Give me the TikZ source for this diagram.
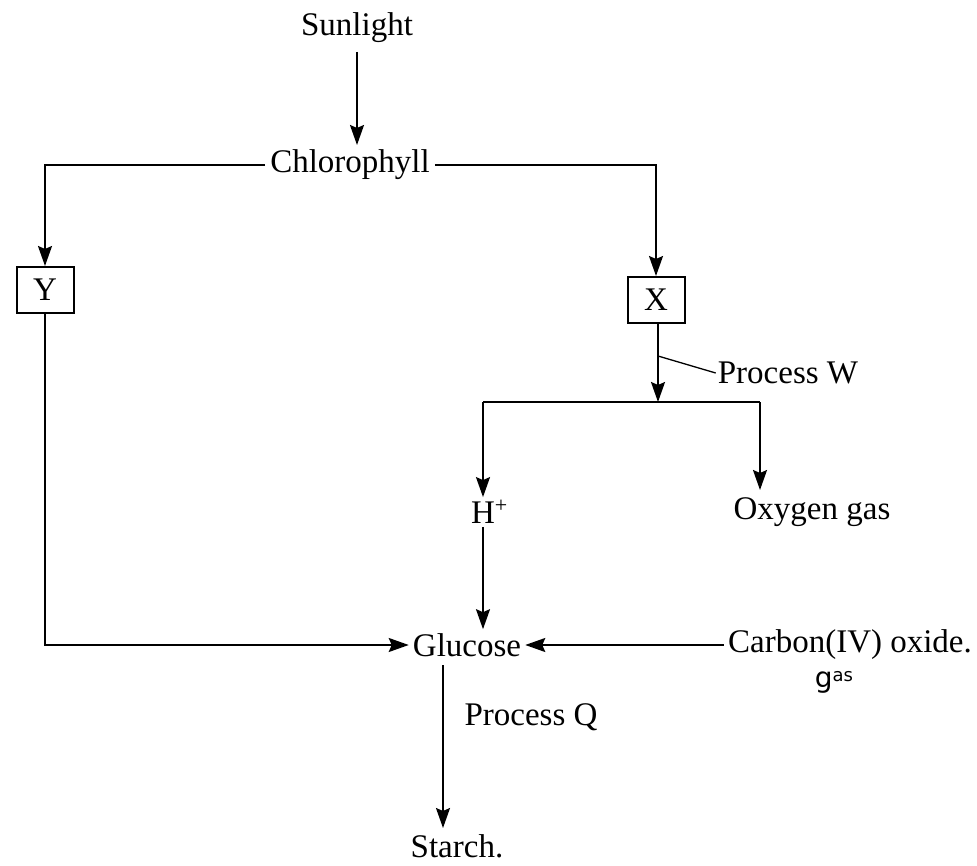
\documentclass[tikz,border=0pt]{standalone}
\usepackage{fontspec}
\setmainfont{Liberation Serif}
\newfontfamily\handfont{DejaVu Sans}
\usetikzlibrary{arrows.meta}
\begin{document}
\begin{tikzpicture}[x=1pt,y=-1pt,
  every node/.style={font=\fontsize{33}{38}\selectfont, inner sep=5pt},
  lbl/.style={},
  boxed/.style={draw, line width=2pt, minimum width=57pt, minimum height=46pt, inner sep=0pt},
  ln/.style={line width=1.8pt},
  arr/.style={ln, -{Stealth[length=20pt,width=14pt,inset=3pt]}}]
\useasboundingbox (0,0) rectangle (977,866);
% nodes
\node[lbl] (sun) at (357,28) {Sunlight};
\node[lbl] (chl) at (350,165) {Chlorophyll};
\node[boxed] (Y) at (45,290) {Y};
\node[boxed] (X) at (656,300) {X};
\node[lbl, inner sep=2pt] (pw) at (788,373) {Process W};
\node[lbl, inner sep=3pt] (hp) at (483,512) {H\rlap{\raisebox{11pt}{\fontsize{22}{22}\selectfont+}}};
\node[lbl] (ox) at (812,512) {Oxygen gas};
\node[lbl, inner sep=4pt] (glu) at (467,645) {Glucose};
\node[lbl, inner sep=4pt] (co2) at (850,645) {Carbon(IV) oxide.};
\node[font=\handfont, inner sep=0pt] (gas) at (834,682) {{\fontsize{28}{28}\selectfont g}\raisebox{6pt}{\fontsize{18}{18}\selectfont as}};
\node[lbl, inner sep=2pt] (pq) at (531,717) {Process Q};
\node[lbl, inner sep=2pt] (st) at (457,846) {Starch.};
% coordinates
\coordinate (sunb) at (357,52);
\coordinate (chlt) at (357,145);
\coordinate (bl) at (483,402);
\coordinate (brr) at (760,402);
\coordinate (oxin) at (760,490);
\coordinate (xw) at (658,356);
\coordinate (glb) at (443,665);
\coordinate (sti) at (443,828);
% connectors
\draw[arr] (sunb) -- (chlt);
\draw[arr] (chl.west) -| (Y.north);
\draw[arr] (chl.east) -| (X.north);
\draw[arr] (X.south -| xw) -- (xw |- bl);
\draw[ln] (bl) -- (brr);
\draw[arr] (bl) -- (hp.north);
\draw[arr] (brr) -- (oxin);
\draw[ln, line width=1.3pt] (xw) -- (pw.west);
\draw[arr] (hp.south) -- (glu.north -| hp.south);
\draw[arr] (Y.south) |- (glu.west);
\draw[arr] (co2.west) -- (glu.east);
\draw[arr] (glb) -- (sti);
\end{tikzpicture}
\end{document}
